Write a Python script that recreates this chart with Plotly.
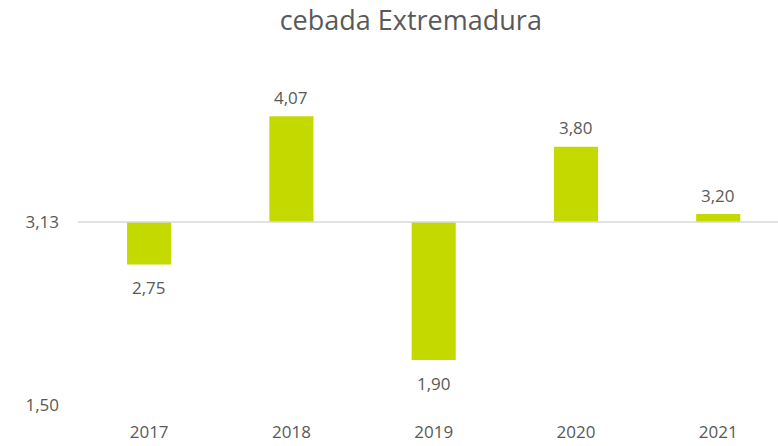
import plotly.graph_objects as go

years = ["2017", "2018", "2019", "2020", "2021"]
values = [2.75, 4.07, 1.90, 3.80, 3.20]
baseline = 3.13
y_ticks = [1.50, 3.13]
y_tick_labels = ["1,50", "3,13"]
title = "cebada Extremadura"

bar_color = "#C4D900"
text_color = "#595959"
font_family = "Open Sans"

deltas = [v - baseline for v in values]

fig = go.Figure()
fig.add_trace(go.Bar(
    x=years, y=deltas, base=baseline,
    marker=dict(color=bar_color, line=dict(width=0)),
    width=0.31, hoverinfo="skip",
))

for i, v in enumerate(values):
    above = v >= baseline
    fig.add_annotation(
        x=i, y=v, xref="x", yref="y", text=f"{v:.2f}".replace(".", ","),
        showarrow=False, yshift=19 if above else -23,
        font=dict(family=font_family, size=17, color=text_color),
    )

fig.add_shape(type="line", xref="paper", yref="y", x0=0, x1=1,
              y0=baseline, y1=baseline, line=dict(color="#D9D9D9", width=1.5))

fig.update_layout(
    width=778, height=446,
    margin=dict(l=78, r=0, t=68, b=41),
    paper_bgcolor="white", plot_bgcolor="white",
    showlegend=False,
    title=dict(text=title, x=0.528, xref="container", xanchor="center",
               y=0.955, yref="container", yanchor="middle",
               font=dict(family=font_family, size=27, color=text_color)),
    xaxis=dict(type="category", range=[-0.5, 4.42], showgrid=False,
               showline=False, zeroline=False, ticks="",
               ticklabelstandoff=15,
               tickfont=dict(family=font_family, size=17, color=text_color)),
    yaxis=dict(range=[1.5, 4.5], tickvals=y_ticks, ticktext=y_tick_labels,
               showgrid=False, zeroline=False, showline=False, ticks="",
               ticklabelstandoff=18,
               tickfont=dict(family=font_family, size=17, color=text_color)),
)

fig.write_html("out.html", config={"displayModeBar": False},
               post_script="document.body.style.margin='0';")
